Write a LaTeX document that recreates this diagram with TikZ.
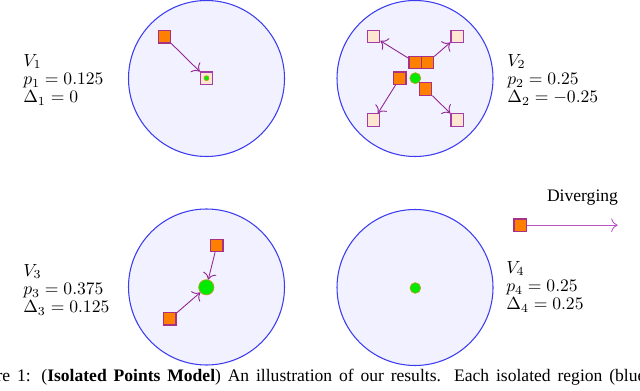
\documentclass[tikz,border=0pt]{standalone}
\usepackage[no-math]{fontspec}
\setmainfont{Liberation Serif}
\usepackage{amsmath,amssymb}
\usepackage{xcolor}
\usepackage{tikz}
\usetikzlibrary{arrows.meta, positioning}

\definecolor{regfill}{RGB}{241,241,255}
\definecolor{regedge}{RGB}{60,60,240}
\definecolor{srcfill}{RGB}{255,128,0}
\definecolor{srcedge}{RGB}{165,50,135}
\definecolor{tgtfill}{RGB}{255,230,208}
\definecolor{tgtedge}{RGB}{165,60,165}
\definecolor{ptfill}{RGB}{0,235,0}
\definecolor{ptedge}{RGB}{185,160,40}
\definecolor{arrcol}{RGB}{145,35,145}
\definecolor{divcol}{RGB}{185,85,195}

\begin{document}
\begin{tikzpicture}[
      region/.style={circle, draw=regedge, fill=regfill, line width=0.6pt,
                     minimum size=3.12cm, inner sep=0pt},
      src/.style={draw=srcedge, fill=srcfill, line width=0.7pt,
                  minimum size=0.245cm, inner sep=0pt},
      tgt/.style={draw=tgtedge, fill=tgtfill, line width=0.7pt,
                  minimum size=0.245cm, inner sep=0pt},
      pt/.style={circle, draw=ptedge, fill=ptfill, line width=0.4pt,
                 inner sep=0pt},
      arr/.style={-{To[length=1.3mm]}, draw=arrcol, line width=0.5pt},
      lbl/.style={anchor=north west, align=left, inner sep=0pt,
                  font=\fontsize{10.2}{10.3}\selectfont}
    ]
      \useasboundingbox (0,0) rectangle (12.8,7.8);

      % V1
      \node[region] (r1) at (4.13, 6.23) {};
      \node[src] (s1) at (3.29, 7.064) {};
      \node[tgt] (t1) at (4.13, 6.236) {};
      \node[pt, minimum size=0.1cm] (c1) at (4.13, 6.236) {};
      \draw[arr] (s1) -- (t1);
      \node[lbl] (l1) at (0.46, 6.72) {$V_1$\\ $p_1 = 0.125$\\ $\Delta_1 = 0$};

      % V2
      \node[region] (r2) at (8.30, 6.23) {};
      \node[pt, minimum size=0.22cm] (c2) at (8.306, 6.236) {};
      \node[src] (s2a) at (8.30, 6.554) {};
      \node[src] (s2b) at (8.55, 6.554) {};
      \node[src] (s2c) at (7.996, 6.236) {};
      \node[src] (s2d) at (8.514, 6.02) {};
      \node[tgt] (t2a) at (7.474, 7.066) {};
      \node[tgt] (t2b) at (9.14, 7.066) {};
      \node[tgt] (t2c) at (7.474, 5.40) {};
      \node[tgt] (t2d) at (9.14, 5.40) {};
      \draw[arr] (s2a) -- (t2a);
      \draw[arr] (s2b) -- (t2b);
      \draw[arr] (s2c) -- (t2c);
      \draw[arr] (s2d) -- (t2d);
      \node[lbl] (l2) at (10.14, 6.72) {$V_2$\\ $p_2 = 0.25$\\ $\Delta_2 = -0.25$};

      % V3
      \node[region] (r3) at (4.13, 2.06) {};
      \node[pt, minimum size=0.306cm] (c3) at (4.126, 2.054) {};
      \node[src] (s3a) at (4.336, 2.89) {};
      \node[src] (s3b) at (3.396, 1.424) {};
      \draw[arr] (s3a) -- (c3);
      \draw[arr] (s3b) -- (c3);
      \node[lbl] (l3) at (0.46, 2.52) {$V_3$\\ $p_3 = 0.375$\\ $\Delta_3 = 0.125$};

      % V4
      \node[region] (r4) at (8.30, 2.05) {};
      \node[pt, minimum size=0.214cm] (c4) at (8.306, 2.04) {};
      \node[lbl] (l4) at (10.12, 2.58) {$V_4$\\ $p_4 = 0.25$\\ $\Delta_4 = 0.25$};

      % diverging point
      \node[anchor=base, inner sep=0pt] (dv) at (11.65, 3.77) {Diverging};
      \node[src] (s5) at (10.404, 3.296) {};
      \coordinate (e5) at (12.354, 3.296);
      \draw[arr, draw=divcol] (s5) -- (e5);

      % caption (cut by the page)
      \node[anchor=base west, inner sep=0pt] (cap) at (-0.72, 0.16)
        {\makebox[13.62cm][s]{Figure 1: (\textbf{Isolated Points Model}) An illustration of our results. Each isolated region (blue}};
    \end{tikzpicture}
\end{document}
